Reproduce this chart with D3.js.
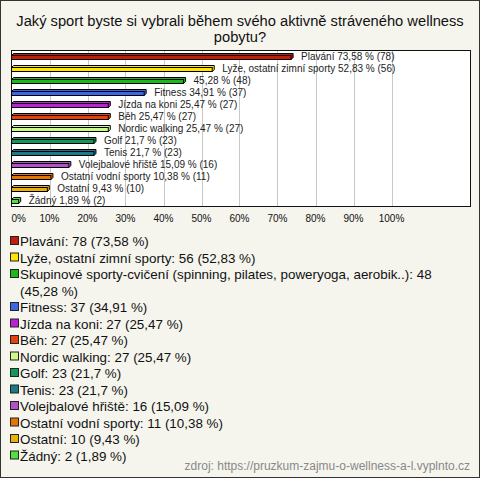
<!DOCTYPE html>
<html>
<head>
<meta charset="utf-8">
<script src="https://cdn.jsdelivr.net/npm/d3@7"></script>
<style>
  body { margin: 0; background: #fff; }
  svg { display: block; font-family: "Liberation Sans", Arial, sans-serif; }
</style>
</head>
<body>
<div id="chart"></div>
<script>
var title = "Jaký sport byste si vybrali během svého aktivně stráveného wellness pobytu?";
var barNames = ["Plavání", "Lyže, ostatní zimní sporty", "", "Fitness", "Jízda na koni",
  "Běh", "Nordic walking", "Golf", "Tenis", "Volejbalové hřiště",
  "Ostatní vodní sporty", "Ostatní", "Žádný"];
var legendNames = ["Plavání", "Lyže, ostatní zimní sporty",
  "Skupinové sporty-cvičení (spinning, pilates, poweryoga, aerobik..)", "Fitness",
  "Jízda na koni", "Běh", "Nordic walking", "Golf", "Tenis", "Volejbalové hřiště",
  "Ostatní vodní sporty", "Ostatní", "Žádný"];
var counts = [78, 56, 48, 37, 27, 27, 27, 23, 23, 16, 11, 10, 2];
var percents = [73.58, 52.83, 45.28, 34.91, 25.47, 25.47, 25.47, 21.7, 21.7, 15.09, 10.38, 9.43, 1.89];
var colors = ["#c41c0c", "#ffe600", "#1cb81c", "#3c66e4", "#bb22d4", "#e4420e", "#ccfa88",
  "#13975a", "#1d7889", "#b252c4", "#e47404", "#e8b00a", "#52e040"];
var ticks = [0, 10, 20, 30, 40, 50, 60, 70, 80, 90, 100];
var source = "zdroj: https://pruzkum-zajmu-o-wellness-a-l.vyplnto.cz";

var W = 480, H = 478;
var plot = {left: 11.5, top: 50.5, right: 470.5, bottom: 206.5};
var depth = 2;

function fmt(p) { return String(p).replace(".", ","); }

var svg = d3.select("#chart").append("svg")
    .attr("width", W)
    .attr("height", H);

svg.append("rect")
    .attr("x", 0.5).attr("y", 0.5)
    .attr("width", W - 1).attr("height", H - 1)
    .attr("fill", "#f5f5ee")
    .attr("stroke", "#333");

// word wrap into tspans
function wrap(textSel, maxW, lineH) {
  textSel.each(function() {
    var t = d3.select(this);
    var words = t.text().split(" ");
    var x = t.attr("x");
    t.text(null);
    var line = [];
    var ts = t.append("tspan").attr("x", x).attr("dy", 0);
    words.forEach(function(w) {
      line.push(w);
      ts.text(line.join(" "));
      if (ts.node().getComputedTextLength() > maxW && line.length > 1) {
        line.pop();
        ts.text(line.join(" "));
        line = [w];
        ts = t.append("tspan").attr("x", x).attr("dy", lineH).text(w);
      }
    });
  });
}

svg.append("text")
    .attr("x", W / 2).attr("y", 26)
    .attr("text-anchor", "middle")
    .attr("font-size", 14.7)
    .attr("fill", "#111")
    .text(title)
    .call(wrap, 462, 16);

var x = d3.scaleLinear().domain([0, 100]).range([plot.left, 391.5]);
var y = d3.scaleBand().domain(d3.range(counts.length))
    .range([plot.top - 0.5, plot.bottom - 0.5]);

svg.append("rect")
    .attr("x", plot.left).attr("y", plot.top)
    .attr("width", plot.right - plot.left).attr("height", plot.bottom - plot.top)
    .attr("fill", "#fff");

svg.append("g").selectAll("line")
    .data(ticks.slice(1))
    .enter().append("line")
      .attr("x1", function(d) { return Math.round(x(d)) + 0.5; })
      .attr("x2", function(d) { return Math.round(x(d)) + 0.5; })
      .attr("y1", plot.top).attr("y2", plot.bottom)
      .attr("stroke", "#c8c8c8");

svg.append("rect")
    .attr("x", plot.left).attr("y", plot.top)
    .attr("width", plot.right - plot.left).attr("height", plot.bottom - plot.top)
    .attr("fill", "none")
    .attr("stroke", "#111");

svg.append("g").selectAll("text")
    .data(ticks)
    .enter().append("text")
      .attr("x", function(d, i) { return i === 0 ? plot.left : x(d); })
      .attr("y", 222)
      .attr("text-anchor", function(d, i) { return i === 0 ? "start" : "middle"; })
      .attr("font-size", 10)
      .attr("fill", "#111")
      .text(function(d) { return d + "%"; });

var bar = svg.append("g").selectAll("g")
    .data(counts)
    .enter().append("g")
      .attr("transform", function(d, i) { return "translate(0," + y(i) + ")"; });

bar.append("path")
    .attr("d", function(d, i) {
      var x0 = plot.left, x1 = x(percents[i]);
      return "M" + x0 + ",5.5L" + (x0 + depth) + "," + (5.5 - depth) +
        "L" + (x1 + depth) + "," + (5.5 - depth) + "L" + (x1 + depth) + "," + (9.5 - depth) +
        "L" + x1 + ",9.5Z";
    })
    .attr("fill", function(d, i) { return colors[i]; })
    .attr("stroke", "#000");

bar.append("rect")
    .attr("x", plot.left)
    .attr("y", 5.5)
    .attr("width", function(d, i) { return x(percents[i]) - plot.left; })
    .attr("height", 4)
    .attr("fill", function(d, i) { return colors[i]; })
    .attr("stroke", "#000");

bar.append("text")
    .attr("x", function(d, i) { return x(percents[i]) + depth + 8; })
    .attr("y", 9.5)
    .attr("font-size", 10)
    .attr("fill", "#222")
    .text(function(d, i) {
      return (barNames[i] ? barNames[i] + " " : "") + fmt(percents[i]) + " % (" + d + ")";
    });

// legend
var lineH = 16.5;
var ly = 246;
var legend = svg.append("g");
counts.forEach(function(d, i) {
  legend.append("rect")
      .attr("x", 10.5).attr("y", ly - 9.5)
      .attr("width", 8).attr("height", 8)
      .attr("fill", colors[i])
      .attr("stroke", "#222");
  var t = legend.append("text")
      .attr("x", 20).attr("y", ly)
      .attr("font-size", 13.4)
      .attr("fill", "#111")
      .text(legendNames[i] + ": " + d + " (" + fmt(percents[i]) + " %)")
      .call(wrap, 445, lineH);
  ly += lineH * t.selectAll("tspan").size();
});

svg.append("text")
    .attr("x", 470).attr("y", 470)
    .attr("text-anchor", "end")
    .attr("font-size", 12)
    .attr("fill", "#888")
    .text(source);
</script>
</body>
</html>
